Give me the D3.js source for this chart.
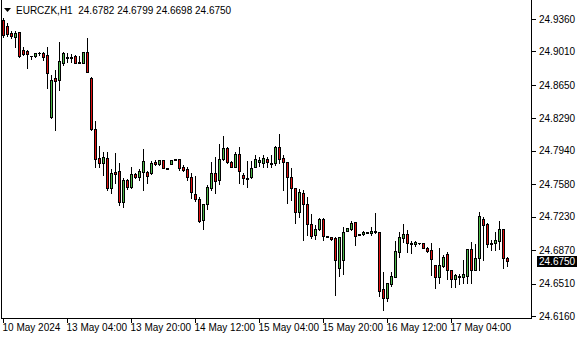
<!DOCTYPE html>
<html><head><meta charset="utf-8">
<script src="https://cdn.jsdelivr.net/npm/d3@7"></script>
<style>html,body{margin:0;padding:0;background:#fff;overflow:hidden}svg{display:block}</style>
</head><body>
<svg id="chart" width="580" height="340"></svg>
<script>
// ---------------- data ----------------
const symbol = "EURCZK,H1";
const open = [24.9350,24.9285,24.9210,24.9167,24.9220,24.9026,24.9015,24.8961,24.8958,24.8994,
24.8994,24.8972,24.8305,24.8725,24.8703,24.8887,24.8940,24.8951,24.8961,24.8897,
24.8887,24.9004,24.8725,24.8175,24.7863,24.7808,24.7863,24.7540,24.7711,24.7722,
24.7388,24.7626,24.7550,24.7690,24.7658,24.7711,24.7711,24.7701,24.7819,24.7798,
24.7841,24.7755,24.7798,24.7852,24.7852,24.7765,24.7744,24.7658,24.7475,24.7421,
24.7195,24.7367,24.7540,24.7701,24.7626,24.7852,24.7971,24.7819,24.7765,24.7906,
24.7679,24.7647,24.7658,24.7765,24.7819,24.7808,24.7852,24.7808,24.7808,24.7981,
24.7863,24.7819,24.7658,24.7540,24.7281,24.7486,24.7367,24.7152,24.7033,24.7098,
24.7205,24.7022,24.7012,24.7001,24.6678,24.6764,24.7076,24.7098,24.7173,24.7044,
24.7044,24.7065,24.7055,24.7076,24.7065,24.6451,24.6354,24.6505,24.6581,24.6850,
24.7001,24.7044,24.6947,24.6936,24.6947,24.6947,24.6893,24.6872,24.6710,24.6581,
24.6700,24.6829,24.6656,24.6559,24.6581,24.6581,24.6591,24.6882,24.6656,24.6786,
24.7205,24.7152,24.6936,24.6947,24.6968,24.7098,24.6782];
const high = [24.9371,24.9318,24.9231,24.9231,24.9224,24.9059,24.9026,24.8965,24.8997,24.9004,
24.9004,24.9059,24.8757,24.8811,24.9112,24.9004,24.8994,24.8983,24.8972,24.8961,
24.9006,24.9156,24.8735,24.8261,24.7992,24.7927,24.7927,24.7744,24.7917,24.7808,
24.7647,24.7636,24.7765,24.7701,24.7744,24.7960,24.7722,24.7830,24.7841,24.7843,
24.7843,24.7757,24.7843,24.7854,24.7854,24.7787,24.7765,24.7701,24.7669,24.7443,
24.7369,24.7572,24.7819,24.7874,24.8014,24.8100,24.7981,24.7830,24.7927,24.7981,
24.7701,24.7830,24.7830,24.7895,24.7874,24.7895,24.7874,24.7895,24.7992,24.8121,
24.7895,24.7821,24.7755,24.7542,24.7529,24.7518,24.7443,24.7259,24.7141,24.7216,
24.7216,24.7024,24.7014,24.7012,24.7014,24.7119,24.7110,24.7184,24.7175,24.7046,
24.7076,24.7067,24.7119,24.7270,24.7067,24.6635,24.6518,24.6635,24.6968,24.7065,
24.7152,24.7087,24.6968,24.6968,24.6950,24.6949,24.6904,24.6947,24.6712,24.6893,
24.6818,24.6850,24.6658,24.6613,24.6613,24.6764,24.6884,24.6958,24.6936,24.7281,
24.7227,24.7162,24.6979,24.7065,24.7184,24.7100,24.6799];
const low = [24.9167,24.9177,24.9156,24.9059,24.8951,24.8972,24.8833,24.8929,24.8955,24.8972,
24.8919,24.8617,24.8294,24.8164,24.8595,24.8865,24.8897,24.8897,24.8885,24.8884,
24.8885,24.8787,24.8164,24.7765,24.7765,24.7679,24.7518,24.7486,24.7594,24.7356,
24.7334,24.7529,24.7540,24.7647,24.7626,24.7518,24.7594,24.7690,24.7787,24.7787,
24.7753,24.7742,24.7796,24.7839,24.7733,24.7722,24.7626,24.7432,24.7399,24.7173,
24.7098,24.7313,24.7518,24.7486,24.7583,24.7841,24.7808,24.7763,24.7763,24.7594,
24.7583,24.7550,24.7647,24.7763,24.7776,24.7765,24.7765,24.7765,24.7787,24.7808,
24.7518,24.7378,24.7410,24.7162,24.7227,24.6979,24.7033,24.7001,24.6990,24.7087,
24.6979,24.7010,24.6979,24.6387,24.6591,24.6613,24.7074,24.7087,24.6925,24.7031,
24.7033,24.7053,24.7033,24.7055,24.6376,24.6225,24.6322,24.6484,24.6579,24.6796,
24.6958,24.6850,24.6839,24.6915,24.6940,24.6891,24.6850,24.6602,24.6462,24.6516,
24.6689,24.6559,24.6473,24.6473,24.6505,24.6516,24.6516,24.6516,24.6654,24.6656,
24.6764,24.6904,24.6872,24.6872,24.6882,24.6678,24.6698];
const close = [24.9188,24.9199,24.9177,24.9210,24.8961,24.8983,24.8983,24.8958,24.8994,24.8992,
24.8951,24.8779,24.8703,24.8692,24.8908,24.8994,24.8951,24.8940,24.8887,24.8887,
24.9004,24.8789,24.8175,24.7852,24.7808,24.7874,24.7540,24.7701,24.7690,24.7388,
24.7626,24.7550,24.7690,24.7658,24.7722,24.7830,24.7669,24.7808,24.7798,24.7841,
24.7755,24.7744,24.7841,24.7841,24.7755,24.7733,24.7658,24.7497,24.7421,24.7184,
24.7367,24.7550,24.7701,24.7615,24.7852,24.7971,24.7819,24.7765,24.7906,24.7722,
24.7647,24.7636,24.7755,24.7852,24.7841,24.7863,24.7819,24.7798,24.7981,24.7852,
24.7819,24.7658,24.7540,24.7281,24.7497,24.7367,24.7152,24.7022,24.7098,24.7205,
24.7022,24.7012,24.6990,24.6764,24.7012,24.7065,24.7108,24.7162,24.7022,24.7033,
24.7065,24.7055,24.7076,24.7065,24.6430,24.6354,24.6516,24.6591,24.6861,24.7012,
24.7044,24.6947,24.6936,24.6958,24.6945,24.6893,24.6861,24.6775,24.6581,24.6710,
24.6796,24.6656,24.6559,24.6602,24.6591,24.6613,24.6882,24.6656,24.6786,24.7238,
24.7141,24.6936,24.6947,24.6979,24.7098,24.6786,24.6750];

// bar times: Friday 10 May 12:00-23:00, then from Monday 13 May 00:00 (weekend gap)
const fridayFirstBar = "2024-05-10 12:00";
const fridayBarCount = 12;
const mondayFirstBar = "2024-05-13 00:00";

const priceTicks = [24.9360, 24.9010, 24.8650, 24.8290, 24.7940, 24.7580, 24.7230, 24.6870, 24.6510, 24.6160];
const timeTickKeys = ["2024-05-10 12:00","2024-05-13 04:00","2024-05-13 20:00","2024-05-14 12:00",
                      "2024-05-15 04:00","2024-05-15 20:00","2024-05-16 12:00","2024-05-17 04:00"];
const timeTickLabels = ["10 May 2024","13 May 04:00","13 May 20:00","14 May 12:00",
                        "15 May 04:00","15 May 20:00","16 May 12:00","17 May 04:00"];

// ---------------- build ----------------
const parse = d3.timeParse("%Y-%m-%d %H:%M");
const fmt = d3.timeFormat("%Y-%m-%d %H:%M");
const barKeys = open.map((_, i) => i < fridayBarCount
  ? fmt(d3.timeHour.offset(parse(fridayFirstBar), i))
  : fmt(d3.timeHour.offset(parse(mondayFirstBar), i - fridayBarCount)));
const bars = barKeys.map((k, i) => ({key: k, o: open[i], h: high[i], l: low[i], c: close[i]}));

const svg = d3.select("#chart");
const FONT = "'Liberation Sans', Arial, sans-serif";
svg.append("rect").attr("width", 580).attr("height", 340).attr("fill", "#fff");

const x = d3.scalePoint().domain(barKeys).range([3, 507]);
const y = d3.scaleLinear().domain([24.6160, 24.9360]).range([316, 19]);

const UP = "#4cb848", DOWN = "#e01010", INK = "#000";

const g = svg.append("g").attr("shape-rendering", "crispEdges");
const cg = g.selectAll("g.c").data(bars).join("g").attr("class", "c");
cg.each(function(d) {
  const s = d3.select(this);
  const cx = Math.round(x(d.key));
  const yH = Math.round(y(d.h)), yL = Math.round(y(d.l));
  const top = Math.round(y(Math.max(d.o, d.c))), bot = Math.round(y(Math.min(d.o, d.c)));
  s.append("rect").attr("x", cx).attr("y", yH).attr("width", 1).attr("height", Math.max(1, yL - yH + 1)).attr("fill", INK);
  s.append("rect").attr("x", cx - 1).attr("y", top).attr("width", 3).attr("height", Math.max(1, bot - top + 1)).attr("fill", INK);
  if (bot - top >= 2) {
    s.append("rect").attr("x", cx).attr("y", top + 1).attr("width", 1).attr("height", bot - top - 1)
      .attr("fill", d.c >= d.o ? UP : DOWN);
  }
});

// frame
g.append("line").attr("x1", 1.5).attr("x2", 1.5).attr("y1", 0).attr("y2", 319).attr("stroke", INK);
g.append("line").attr("x1", 531.5).attr("x2", 531.5).attr("y1", 0).attr("y2", 319).attr("stroke", INK);
g.append("line").attr("x1", 1).attr("x2", 532).attr("y1", 318.5).attr("y2", 318.5).attr("stroke", INK);

// y axis
const ya = svg.append("g").attr("transform", "translate(532,0)")
  .call(d3.axisRight(y).tickValues(priceTicks).tickFormat(d => d.toFixed(4)).tickSize(4).tickPadding(3));
ya.select(".domain").remove();
ya.selectAll("line").attr("stroke", INK).attr("shape-rendering", "crispEdges");
ya.selectAll("text").attr("font-family", FONT).attr("font-size", 10).attr("fill", INK);

// x axis
const xa = svg.append("g").attr("transform", "translate(0,319)")
  .call(d3.axisBottom(x).tickValues(timeTickKeys).tickFormat((d, i) => timeTickLabels[i]).tickSize(4));
xa.select(".domain").remove();
xa.selectAll("line").attr("stroke", INK).attr("shape-rendering", "crispEdges");
xa.selectAll("text").attr("font-family", FONT).attr("font-size", 10).attr("fill", INK)
  .attr("text-anchor", "start").attr("x", -1).attr("y", 12).attr("dy", 0);

// current price tag
const last = bars[bars.length - 1];
const yl = Math.round(y(last.c));
svg.append("rect").attr("x", 537).attr("y", yl - 5).attr("width", 40).attr("height", 11).attr("fill", "#000");
svg.append("text").attr("x", 539).attr("y", yl).attr("dy", "0.35em").attr("font-family", FONT).attr("font-size", 10)
  .attr("fill", "#fff").text(last.c.toFixed(4));

// title
svg.append("path").attr("d", "M4,8 L11,8 L7.5,12 Z").attr("fill", "#000");
svg.append("text").attr("x", 16).attr("y", 14).attr("font-family", FONT).attr("font-size", 10).attr("fill", INK)
  .attr("xml:space", "preserve")
  .text(`${symbol}  ${last.o.toFixed(4)} ${last.h.toFixed(4)} ${last.l.toFixed(4)} ${last.c.toFixed(4)}`);
</script>
</body></html>
